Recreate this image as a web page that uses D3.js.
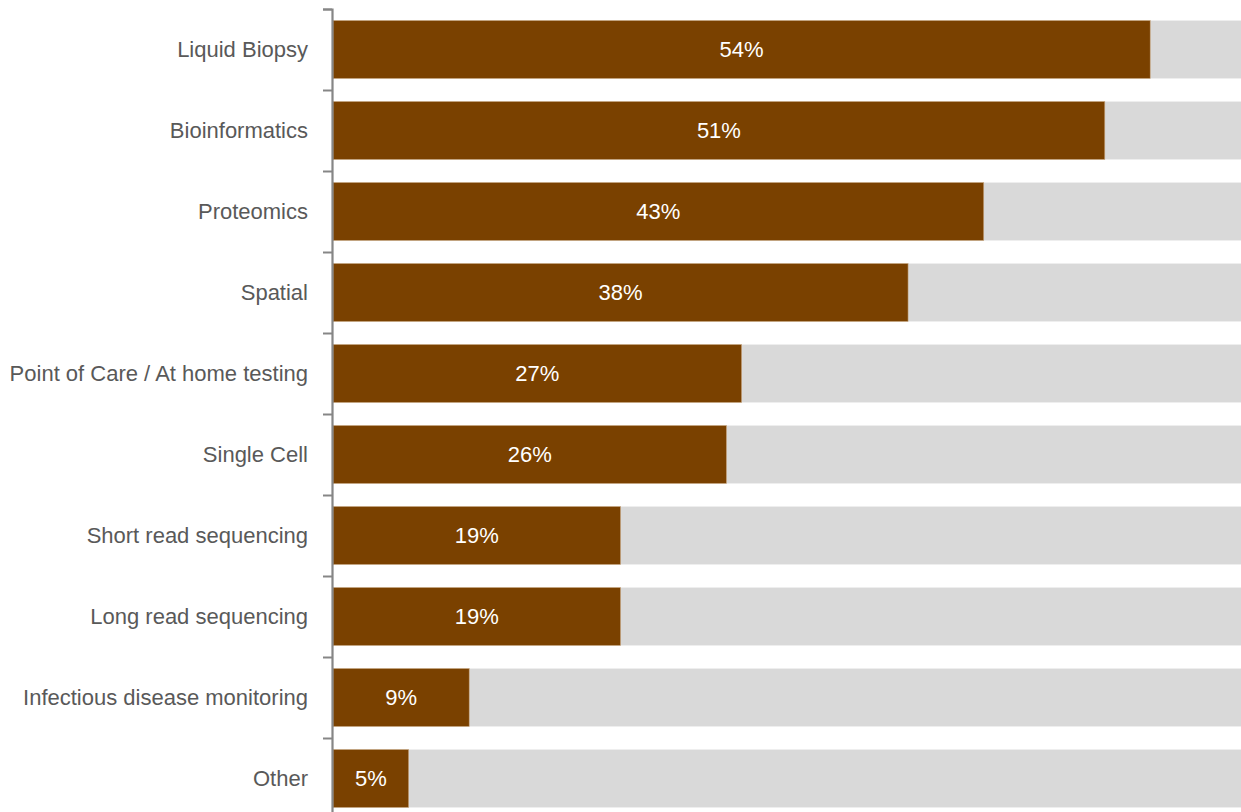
<!DOCTYPE html>
<html lang="en">
<head>
  <meta charset="UTF-8">
  <title>bar-chart</title>
  <script src="https://cdn.jsdelivr.net/npm/d3@7"></script>
  <style>
    body { margin: 0; background: #fff; }
    svg { display: block; }
    text { font-family: "Liberation Sans", Arial, sans-serif; }
  </style>
</head>
<body>
<script>
const categories = ['Liquid Biopsy', 'Bioinformatics', 'Proteomics', 'Spatial',
  'Point of Care / At home testing', 'Single Cell', 'Short read sequencing',
  'Long read sequencing', 'Infectious disease monitoring', 'Other'];
const values = [54, 51, 43, 38, 27, 26, 19, 19, 9, 5];
const maxValue = 60;

const width = 1241, height = 812;
const left = 333;

const svg = d3.select('body').append('svg')
  .attr('width', width)
  .attr('height', height);

const x = d3.scaleLinear().domain([0, maxValue]).range([left, width]);
const y = d3.scaleBand().domain(categories).range([9, 819]).paddingInner(0.285).paddingOuter(0.1425);

// grey background bars
svg.selectAll('rect.bg')
  .data(categories)
  .enter().append('rect')
  .attr('class', 'bg')
  .attr('x', x(0))
  .attr('y', d => y(d))
  .attr('width', x(maxValue) - x(0))
  .attr('height', y.bandwidth())
  .attr('fill', '#d9d9d9');

// value bars
svg.selectAll('rect.bar')
  .data(values)
  .enter().append('rect')
  .attr('class', 'bar')
  .attr('x', x(0))
  .attr('y', (d, i) => y(categories[i]))
  .attr('width', d => x(d) - x(0))
  .attr('height', y.bandwidth())
  .attr('fill', '#7a4100')
  .attr('stroke', '#c9a883')
  .attr('stroke-width', 0.6);

// value labels
svg.selectAll('text.val')
  .data(values)
  .enter().append('text')
  .attr('class', 'val')
  .attr('x', d => (x(0) + x(d)) / 2)
  .attr('y', (d, i) => y(categories[i]) + y.bandwidth() / 2)
  .attr('dy', '0.35em')
  .attr('text-anchor', 'middle')
  .attr('fill', '#fff')
  .style('font-size', '22px')
  .text(d => d + '%');

// category axis
const yAxis = d3.axisLeft(d3.scaleLinear().domain([0, categories.length]).range([9, 819]))
  .ticks(categories.length)
  .tickSize(9)
  .tickFormat('');
const axisG = svg.append('g')
  .attr('transform', 'translate(' + (left - 1) + ',0)')
  .call(yAxis);
axisG.select('.domain').attr('stroke', '#868686').attr('stroke-width', 2.2);
axisG.selectAll('.tick line').attr('stroke', '#868686').attr('stroke-width', 2);

svg.selectAll('text.cat')
  .data(categories)
  .enter().append('text')
  .attr('class', 'cat')
  .attr('x', 308)
  .attr('y', d => y(d) + y.bandwidth() / 2)
  .attr('dy', '0.35em')
  .attr('text-anchor', 'end')
  .attr('fill', '#595959')
  .style('font-size', '22px')
  .text(d => d);
</script>
</body>
</html>
